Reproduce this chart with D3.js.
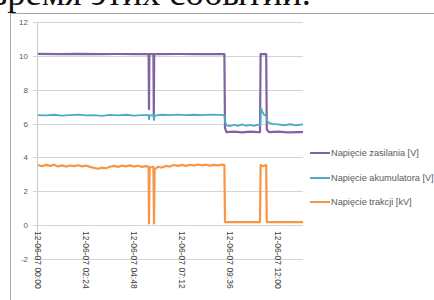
<!DOCTYPE html>
<html>
<head>
<meta charset="utf-8">
<script src="https://cdn.jsdelivr.net/npm/d3@7"></script>
<style>
  body { margin: 0; background: #fff; }
  svg { display: block; }
</style>
</head>
<body>
<script>
// size of the picture
var w = 434;
var h = 300;

// series: [hour, value]
var zasilania = [
  [0, 10.12], [1, 10.1], [2, 10.12], [3, 10.1], [4, 10.11], [5, 10.1],
  [5.53, 10.1], [5.55, 6.85], [5.57, 10.1], [5.77, 10.1], [5.79, 6.55], [5.81, 10.1],
  [7, 10.11], [8, 10.1], [9, 10.1], [9.32, 10.1], [9.35, 5.75], [9.42, 5.5],
  [9.8, 5.52], [10.2, 5.48], [10.6, 5.52], [11.0, 5.5], [11.1, 5.5], [11.13, 10.1],
  [11.41, 10.1], [11.44, 5.65], [11.55, 5.5], [12.0, 5.52], [12.5, 5.48], [13.0, 5.5], [13.25, 5.5]
];
var akumulatora = [
  [0, 6.5], [0.4, 6.48], [0.8, 6.52], [1.2, 6.47], [1.6, 6.5], [2.0, 6.53], [2.4, 6.48],
  [2.8, 6.5], [3.2, 6.46], [3.6, 6.51], [4.0, 6.49], [4.4, 6.52], [4.8, 6.47], [5.2, 6.5],
  [5.53, 6.5], [5.55, 6.25], [5.58, 6.48], [5.77, 6.5], [5.8, 6.2], [5.83, 6.47],
  [6.2, 6.52], [6.6, 6.5], [7.0, 6.53], [7.4, 6.5], [7.8, 6.52], [8.2, 6.5], [8.6, 6.53],
  [9.0, 6.51], [9.32, 6.5], [9.36, 6.1], [9.42, 5.9], [9.6, 5.85], [9.8, 5.93], [10.0, 5.86],
  [10.2, 5.95], [10.4, 5.87], [10.6, 5.92], [10.8, 5.86], [11.0, 5.94], [11.12, 5.9],
  [11.15, 6.9], [11.2, 6.75], [11.3, 6.52], [11.42, 6.45], [11.46, 6.15], [11.55, 6.05],
  [11.7, 5.98], [12.0, 5.95], [12.3, 5.9], [12.6, 5.96], [12.9, 5.9], [13.25, 5.95]
];
var trakcja = [
  [0, 3.55], [0.2, 3.48], [0.4, 3.56], [0.6, 3.5], [0.8, 3.57], [1.0, 3.47], [1.2, 3.53],
  [1.4, 3.46], [1.6, 3.52], [1.8, 3.49], [2.0, 3.54], [2.2, 3.47], [2.4, 3.52], [2.6, 3.44],
  [2.8, 3.38], [3.0, 3.33], [3.2, 3.4], [3.4, 3.36], [3.6, 3.45], [3.8, 3.5], [4.0, 3.44],
  [4.2, 3.52], [4.4, 3.47], [4.6, 3.53], [4.8, 3.46], [5.0, 3.51], [5.2, 3.44], [5.4, 3.49],
  [5.53, 3.45], [5.55, 0.1], [5.58, 3.4], [5.77, 3.45], [5.8, 0.1], [5.83, 3.3], [6.0, 3.45],
  [6.2, 3.4], [6.4, 3.5], [6.6, 3.46], [6.8, 3.55], [7.0, 3.5], [7.2, 3.56], [7.4, 3.5],
  [7.6, 3.57], [7.8, 3.52], [8.0, 3.58], [8.2, 3.53], [8.4, 3.57], [8.6, 3.52], [8.8, 3.56],
  [9.0, 3.53], [9.2, 3.57], [9.32, 3.55], [9.35, 0.18], [11.1, 0.18], [11.13, 3.55],
  [11.25, 3.48], [11.41, 3.55], [11.44, 0.18], [13.25, 0.18]
];

var seriesNames = ["Napięcie zasilania [V]", "Napięcie akumulatora [V]", "Napięcie trakcji [kV]"];
var seriesColors = ["#8064a2", "#4bacc6", "#f79646"];
var yTicks = [-2, 0, 2, 4, 6, 8, 10, 12];
var xTicks = [0, 2.4, 4.8, 7.2, 9.6, 12];
var xTickLabels = ["12-06-07 00:00", "12-06-07 02:24", "12-06-07 04:48", "12-06-07 07:12", "12-06-07 09:36", "12-06-07 12:00"];

var svg = d3.select("body")
    .append("svg")
    .attr("width", w)
    .attr("height", h);

// text of the document above the chart, cut off at the top
svg.append("text")
    .attr("x", 311)
    .attr("y", 5)
    .attr("text-anchor", "end")
    .style("font-family", "'Liberation Serif', 'DejaVu Serif', serif")
    .style("font-size", "36.5px")
    .style("fill", "#111")
    .text("время этих событий.");

// chart frame
svg.append("rect")
    .attr("x", 10.5)
    .attr("y", 13.5)
    .attr("width", 440)
    .attr("height", 300)
    .style("fill", "none")
    .style("stroke", "#a6a6a6");

var x = d3.scaleLinear().domain([0, 13.25]).range([38, 303]);
var y = d3.scaleLinear().domain([-2, 12]).range([259, 22]);

// gridlines with small outside ticks
svg.append("g").selectAll("line")
    .data(yTicks)
    .enter()
    .append("line")
    .attr("x1", 33)
    .attr("x2", 303)
    .attr("y1", function (d) { return Math.round(y(d)) + 0.5; })
    .attr("y2", function (d) { return Math.round(y(d)) + 0.5; })
    .style("stroke", "#d4d4d4");

// vertical axis line
svg.append("line")
    .attr("x1", 37.5).attr("x2", 37.5)
    .attr("y1", y(12)).attr("y2", y(-2))
    .style("stroke", "#c8c8c8");

// y labels
svg.append("g").selectAll("text")
    .data(yTicks)
    .enter()
    .append("text")
    .attr("x", 28)
    .attr("y", function (d) { return y(d) + 3; })
    .attr("text-anchor", "end")
    .style("font-family", "'Liberation Sans', Arial, sans-serif")
    .style("font-size", "8px")
    .style("fill", "#595959")
    .text(function (d) { return d; });

// x labels, rotated
svg.append("g").selectAll("text")
    .data(xTicks)
    .enter()
    .append("text")
    .attr("transform", function (d) { return "translate(" + (x(d) - 3) + ",231) rotate(90)"; })
    .style("font-family", "'Liberation Sans', Arial, sans-serif")
    .style("font-size", "8.5px")
    .style("fill", "#404040")
    .text(function (d, i) { return xTickLabels[i]; });

var line = d3.line()
    .x(function (d) { return x(d[0]); })
    .y(function (d) { return y(d[1]); });

[zasilania, akumulatora, trakcja].forEach(function (s, i) {
    svg.append("path")
        .datum(s)
        .attr("d", line)
        .style("fill", "none")
        .style("stroke", seriesColors[i])
        .style("stroke-width", i == 1 ? 1.8 : 2.2)
        .style("stroke-linejoin", "round");
});

// legend
var legendY = [153, 178, 202];
var lg = svg.append("g").selectAll("g")
    .data(seriesNames)
    .enter()
    .append("g")
    .attr("transform", function (d, i) { return "translate(310," + legendY[i] + ")"; });

lg.append("line")
    .attr("x1", 0).attr("x2", 20)
    .style("stroke", function (d, i) { return seriesColors[i]; })
    .style("stroke-width", 2);

lg.append("text")
    .attr("x", 21)
    .attr("y", 3)
    .style("font-family", "'Liberation Sans', Arial, sans-serif")
    .style("font-size", "9.2px")
    .style("fill", "#595959")
    .text(function (d) { return d; });
</script>
</body>
</html>
